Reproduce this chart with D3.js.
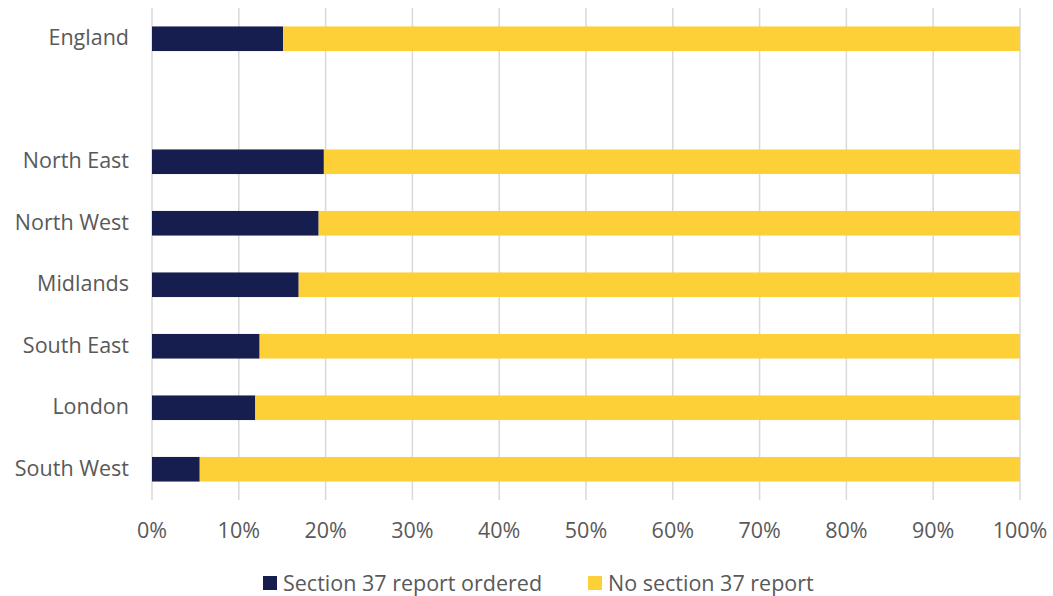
<!DOCTYPE html>
<html>
<head>
<meta charset="utf-8">
<script src="https://cdn.jsdelivr.net/npm/d3@7"></script>
<style>
  html, body { margin: 0; padding: 0; background: #fff; }
  svg { display: block; font-family: "Open Sans", "Noto Sans", sans-serif; }
</style>
</head>
<body>
<svg id="chart" width="1053" height="596"></svg>
<script>
// Regions, top to bottom; the empty entry leaves a gap under England
const regions = ["England", "", "North East", "North West", "Midlands", "South East", "London", "South West"];
// Share of cases with a Section 37 report ordered (%)
const section37 = [15.1, null, 19.8, 19.2, 16.9, 12.4, 11.9, 5.5];
const seriesNames = ["Section 37 report ordered", "No section 37 report"];
const seriesColors = ["#161d4f", "#fdd037"];
const tickValues = [0, 10, 20, 30, 40, 50, 60, 70, 80, 90, 100];

const svg = d3.select("#chart");
const margin = { left: 152, right: 33, top: 8, bottom: 96 };
const W = 1053, H = 596;
const fontSize = 21.5;

const x = d3.scaleLinear().domain([0, 100]).range([margin.left, W - margin.right]);
const y = d3.scaleBand().domain(d3.range(regions.length)).range([margin.top, H - margin.bottom]).paddingInner(0.6).paddingOuter(0.3);

// Vertical gridlines
svg.append("g").selectAll("line").data(tickValues).join("line")
  .attr("x1", d => x(d)).attr("x2", d => x(d))
  .attr("y1", margin.top).attr("y2", H - margin.bottom)
  .attr("stroke", "#d9d9d9").attr("stroke-width", 1.5);

// Stacked rows
const rows = regions.map((r, i) => ({ i, r, a: section37[i] })).filter(d => d.a != null);
const stack = d3.stack().keys(["a", "b"])(rows.map(d => ({ i: d.i, a: d.a, b: 100 - d.a })));

stack.forEach((layer, k) => {
  svg.append("g").selectAll("rect").data(layer).join("rect")
    .attr("x", d => x(d[0]))
    .attr("width", d => x(d[1]) - x(d[0]))
    .attr("y", d => y(d.data.i))
    .attr("height", y.bandwidth())
    .attr("fill", seriesColors[k]);
});

// Category labels
svg.append("g").selectAll("text").data(regions.map((r, i) => ({ r, i })).filter(d => d.r)).join("text")
  .attr("x", 129)
  .attr("y", d => y(d.i) + y.bandwidth() / 2 - 1)
  .attr("dy", "0.35em")
  .attr("text-anchor", "end")
  .attr("fill", "#595959")
  .attr("font-size", fontSize)
  .text(d => d.r);

// X-axis tick labels
svg.append("g").selectAll("text").data(tickValues).join("text")
  .attr("x", d => x(d))
  .attr("y", 530)
  .attr("dy", "0.35em")
  .attr("text-anchor", "middle")
  .attr("fill", "#595959")
  .attr("font-size", fontSize)
  .text(d => d + "%");

// Legend
const legendX = [263, 588];
const lg = svg.append("g").selectAll("g").data(seriesNames).join("g")
  .attr("transform", (d, i) => `translate(${legendX[i]},583)`);
lg.append("rect").attr("x", 0).attr("y", -7).attr("width", 14).attr("height", 14)
  .attr("fill", (d, i) => seriesColors[i]);
lg.append("text").attr("x", 20).attr("dy", "0.35em")
  .attr("fill", "#595959").attr("font-size", fontSize).text(d => d);
</script>
</body>
</html>
